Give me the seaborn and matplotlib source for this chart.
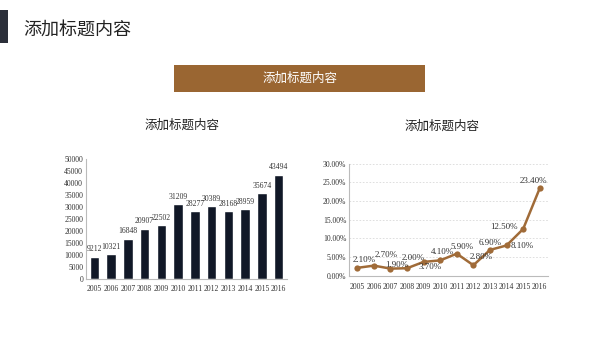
import matplotlib
matplotlib.use("Agg")
import matplotlib.pyplot as plt
import seaborn as sns
import pandas as pd
import numpy as np
from matplotlib.patches import Rectangle

years = ["2005", "2006", "2007", "2008", "2009", "2010", "2011", "2012", "2013", "2014", "2015", "2016"]
bar_values = [9212, 10321, 16848, 20907, 22502, 31209, 28277, 30389, 28168, 28959, 35674, 43494]
rate_values = [2.10, 2.70, 1.90, 2.00, 3.70, 4.10, 5.90, 2.80, 6.90, 8.10, 12.50, 23.40]
page_title = "添加标题内容"
banner_title = "添加标题内容"
left_title = "添加标题内容"
right_title = "添加标题内容"
bar_yticks = list(range(0, 50001, 5000))
rate_yticks = [0, 5, 10, 15, 20, 25, 30]

sns.set_theme(style="white")
plt.rcParams['font.family'] = ['Noto Sans CJK SC', 'DejaVu Sans']

W, H = 600, 338
fig = plt.figure(figsize=(6, 3.38), dpi=100)
fig.patch.set_facecolor("white")

def px_axes(x0, y0, x1, y1):
    return fig.add_axes([x0 / W, 1 - y1 / H, (x1 - x0) / W, (y1 - y0) / H])

# header
fig.patches.append(Rectangle((0, 1 - 43 / H), 8 / W, 33 / H, transform=fig.transFigure,
                             facecolor="#2b2f3a", edgecolor="none"))
fig.text(23 / W, 1 - 30 / H, page_title, fontsize=13, color="#222222", va="center", ha="left")

# banner
fig.patches.append(Rectangle((174 / W, 1 - 92 / H), 251 / W, 27 / H, transform=fig.transFigure,
                             facecolor="#9a6632", edgecolor="none"))
fig.text(300 / W, 1 - 78.5 / H, banner_title, fontsize=9, color="white", va="center", ha="center")

# subtitles
fig.text(182 / W, 1 - 125 / H, left_title, fontsize=9, color="#222222", va="center", ha="center")
fig.text(442 / W, 1 - 126 / H, right_title, fontsize=9, color="#222222", va="center", ha="center")

serif = ['Liberation Serif', 'DejaVu Serif']

# bar chart
ax1 = px_axes(86, 159, 287, 279)
df_bar = pd.DataFrame({"year": years, "value": bar_values})
sns.barplot(data=df_bar, x="year", y="value", color="#111827", width=0.56, ax=ax1, saturation=1)
ax1.set_ylim(0, 50000)
ax1.set_xlim(-0.5, len(years) - 0.5)
ax1.set_yticks(bar_yticks)
ax1.set_yticklabels([str(v) for v in bar_yticks], fontsize=5.5, family=serif, color="#333333")
ax1.set_xticks(range(len(years)))
ax1.set_xticklabels(years, fontsize=5.5, family=serif, color="#333333")
ax1.set_xlabel("")
ax1.set_ylabel("")
ax1.tick_params(axis="y", length=0, pad=2)
ax1.tick_params(axis="x", length=0, pad=4)
for s in ["top", "right"]:
    ax1.spines[s].set_visible(False)
for s in ["left", "bottom"]:
    ax1.spines[s].set_color("#bbbbbb")
    ax1.spines[s].set_linewidth(0.8)
for i, v in enumerate(bar_values):
    ax1.annotate(str(v), (i, v), xytext=(0, 2.5), textcoords="offset points", ha="center", va="bottom",
                 fontsize=5.5, family=serif, color="#333333")
ax1.set_facecolor("white")

# line chart
ax2 = px_axes(349, 163.7, 548, 275.7)
df_line = pd.DataFrame({"x": np.arange(len(years)), "rate": rate_values})
sns.lineplot(data=df_line, x="x", y="rate", color="#a06b38", linewidth=1.8, marker="o",
             markersize=4.5, markeredgewidth=0, ax=ax2)
ax2.set_ylim(0, 30)
ax2.set_xlim(-0.5, len(years) - 0.5)
ax2.set_yticks(rate_yticks)
ax2.set_yticklabels([f"{v:.2f}%" for v in rate_yticks], fontsize=5.5, family=serif, color="#333333")
ax2.set_xticks(range(len(years)))
ax2.set_xticklabels(years, fontsize=5.5, family=serif, color="#333333")
ax2.set_xlabel("")
ax2.set_ylabel("")
ax2.tick_params(axis="y", length=0, pad=2)
ax2.tick_params(axis="x", length=0, pad=5)
ax2.grid(axis="y", linestyle=(0, (2, 2)), color="#d9d9d9", linewidth=0.6)
for s in ["top", "right"]:
    ax2.spines[s].set_visible(False)
for s in ["left", "bottom"]:
    ax2.spines[s].set_color("#bbbbbb")
    ax2.spines[s].set_linewidth(0.8)
offsets = [(5, 5.8), (8.6, 8), (4.3, 2.6), (4.3, 7.2), (5, -3.9), (1.4, 5.8),
           (3.6, 5), (5.8, 6.1), (0, 5), (11.5, -0.7), (-13.7, 1.4), (-4.3, 5.5)]
for i, v in enumerate(rate_values):
    dx, dy = offsets[i]
    ax2.annotate(f"{v:.2f}%", (i, v), xytext=(dx, dy), textcoords="offset points", ha="center",
                 va="center", fontsize=6.5, family=serif, color="#333333")

fig.savefig("out.png", dpi=100, facecolor="white")
